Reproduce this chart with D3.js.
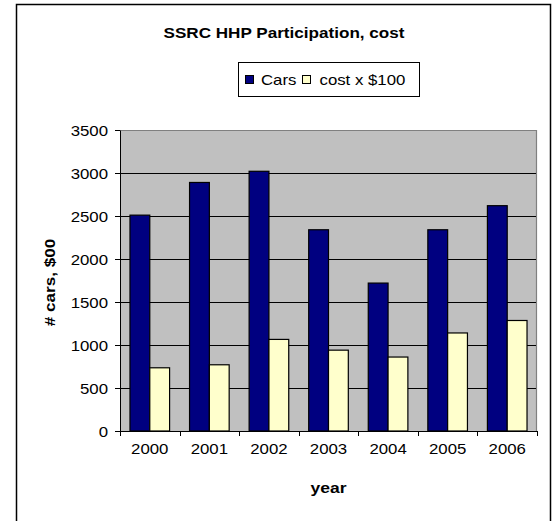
<!DOCTYPE html>
<html><head><meta charset="utf-8">
<script src="https://cdn.jsdelivr.net/npm/d3@7"></script>
<style>
body{margin:0;background:#fff}
svg{display:block}
text{font-family:"Liberation Sans",Arial,sans-serif;fill:#000}
</style>
</head><body>
<svg id="c" width="555" height="521"></svg>
<script>
// ---- data ----
const years = ["2000","2001","2002","2003","2004","2005","2006"];
const cars = [2510, 2890, 3020, 2340, 1720, 2340, 2620];
const cost = [735, 770, 1065, 940, 860, 1140, 1285];
const seriesNames = ["Cars", "cost x $100"];
const seriesColors = ["#000080", "#ffffcc"];
const yTicks = [0, 500, 1000, 1500, 2000, 2500, 3000, 3500];
const titleText = "SSRC HHP Participation, cost";
const xTitle = "year";
const yTitle = "# cars, $00";

// ---- layout ----
const svg = d3.select("#c");
const plot = {left: 120, right: 537, top: 130, bottom: 431};
const SX = 1.2; // horizontal text widening to match reference rendering

function widen(sel, f) {
  sel.each(function () {
    const t = d3.select(this);
    const x = +t.attr("x") || 0;
    const prev = t.attr("transform") || "";
    t.attr("transform", prev + ` translate(${x},0) scale(${f},1) translate(${-x},0)`);
  });
}

// outer border
svg.append("rect").attr("x", 16.5).attr("y", 4.5).attr("width", 534).attr("height", 540)
  .attr("fill", "#fff").attr("stroke", "#000").attr("stroke-width", 1.5);

// title
svg.append("text").attr("transform", `translate(284,38) scale(1.14,1)`)
  .attr("text-anchor", "middle").attr("font-weight", "bold").attr("font-size", 15)
  .text(titleText);

// scales
const pad = 0.335;
const x0 = d3.scaleBand().domain(years).range([plot.left, plot.right])
  .paddingInner(pad).paddingOuter(pad / 2);
const x1 = d3.scaleBand().domain(seriesNames).range([0, x0.bandwidth()]);
const y = d3.scaleLinear().domain([0, 3500]).range([plot.bottom, plot.top]);

// plot background
svg.append("rect").attr("x", plot.left).attr("y", plot.top)
  .attr("width", plot.right - plot.left).attr("height", plot.bottom - plot.top)
  .attr("fill", "#c0c0c0");
// top & right border (grey)
svg.append("path")
  .attr("d", `M${plot.left},${plot.top + 0.5}H${plot.right - 0.5}V${plot.bottom}`)
  .attr("fill", "none").attr("stroke", "#808080").attr("stroke-width", 1.2);

// gridlines
svg.append("g").selectAll("line").data(yTicks.filter(v => v > 0 && v < 3500)).join("line")
  .attr("x1", plot.left).attr("x2", plot.right - 1)
  .attr("y1", d => Math.round(y(d)) + 0.5).attr("y2", d => Math.round(y(d)) + 0.5)
  .attr("stroke", "#000").attr("stroke-width", 1);

// bars
const data = years.map((yr, i) => ({year: yr, vals: [cars[i], cost[i]]}));
const groups = svg.append("g").selectAll("g").data(data).join("g")
  .attr("transform", d => `translate(${x0(d.year)},0)`);
groups.selectAll("rect").data(d => d.vals.map((v, j) => ({name: seriesNames[j], v, j})))
  .join("rect")
  .attr("x", d => x1(d.name))
  .attr("y", d => y(d.v))
  .attr("width", x1.bandwidth())
  .attr("height", d => y(0) - y(d.v))
  .attr("fill", d => seriesColors[d.j])
  .attr("stroke", "#000").attr("stroke-width", 1.2);

// y axis
const yAxis = svg.append("g").attr("transform", `translate(${plot.left},0)`)
  .call(d3.axisLeft(y).tickValues(yTicks).tickFormat(d3.format("d"))
    .tickSize(5).tickSizeOuter(0).tickPadding(7));
yAxis.select(".domain").attr("stroke", "#000");
yAxis.selectAll("text").attr("font-size", 14).attr("font-family", "Liberation Sans, Arial, sans-serif")
  .attr("dy", "0.36em").call(widen, SX);

// x axis
const xAxis = svg.append("g").attr("transform", `translate(0,${plot.bottom})`)
  .call(d3.axisBottom(x0).tickSize(0).tickSizeOuter(0).tickPadding(13));
xAxis.select(".domain").attr("d", `M${plot.left},0.5H${plot.right}`).attr("stroke", "#000");
xAxis.selectAll("text").attr("font-size", 14).attr("font-family", "Liberation Sans, Arial, sans-serif")
  .call(widen, SX);
// category boundary ticks
const bounds = years.map(d => x0(d) - x0.step() * pad / 2).concat([plot.right]);
xAxis.append("g").selectAll("line").data(bounds).join("line")
  .attr("x1", d => Math.round(d) + 0.5).attr("x2", d => Math.round(d) + 0.5)
  .attr("y1", 0).attr("y2", 5).attr("stroke", "#000");

// axis titles
svg.append("text").attr("transform", `translate(${(plot.left + plot.right) / 2},493) scale(1.25,1)`)
  .attr("text-anchor", "middle").attr("font-weight", "bold").attr("font-size", 14).text(xTitle);
svg.append("text").attr("transform", `translate(55,${(plot.top + plot.bottom) / 2 + 2}) rotate(-90) scale(1.22,1)`)
  .attr("text-anchor", "middle").attr("font-weight", "bold").attr("font-size", 14).text(yTitle);

// legend
const lg = svg.append("g");
lg.append("rect").attr("x", 238.5).attr("y", 62.5).attr("width", 181).attr("height", 34)
  .attr("fill", "#fff").attr("stroke", "#000").attr("stroke-width", 1);
const legendX = [245, 302];
const legendTextX = [261, 319.5];
seriesNames.forEach((name, i) => {
  lg.append("rect").attr("x", legendX[i] + 0.5).attr("y", 75.5).attr("width", 8).attr("height", 8)
    .attr("fill", seriesColors[i]).attr("stroke", "#000").attr("stroke-width", 1);
  lg.append("text").attr("x", legendTextX[i]).attr("y", 85).attr("font-size", 14)
    .text(name).call(widen, SX);
});
</script>
</body></html>
